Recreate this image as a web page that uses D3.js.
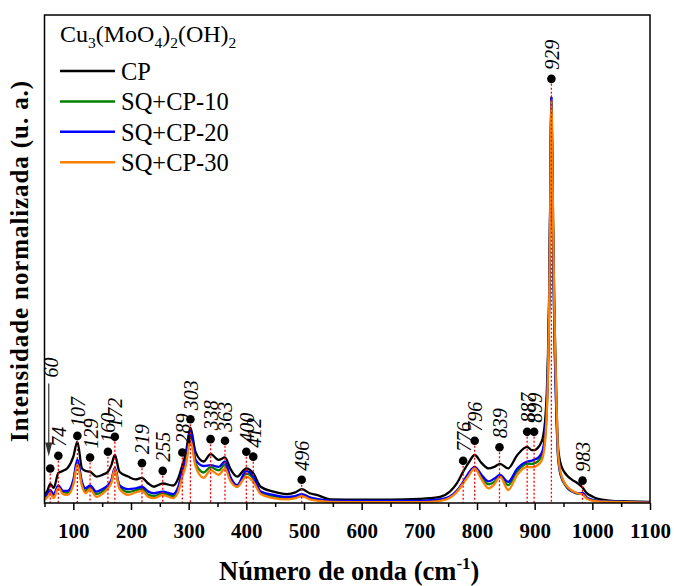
<!DOCTYPE html>
<html><head><meta charset="utf-8">
<script src="https://cdn.jsdelivr.net/npm/d3@7"></script>
<style>body{margin:0;background:#fff} svg{display:block}</style>
</head><body>
<svg id="chart" width="674" height="586"></svg>
<script>
// ---------- data ----------
const wavenumbers = [
  50, 55, 60, 66, 74, 82, 90, 100, 107, 115,
  121, 129, 140, 150, 160, 166, 172, 180, 195, 208,
  219, 230, 240, 255, 273, 282, 289, 295, 303, 312,
  326, 338, 352, 363, 372, 384, 400, 412, 425, 447,
  470, 485, 496, 510, 522, 546, 600, 650, 700, 720,
  736, 753, 765, 776, 785, 796, 808, 820, 830, 840,
  854, 870, 887, 895, 900, 905, 910, 914, 918, 921,
  923, 925, 927, 928, 929, 930, 931, 933, 935, 937,
  940, 943, 947, 952, 958, 965, 975, 983, 990, 1000,
  1010, 1030, 1060, 1100];

const seriesNames = ["CP", "SQ+CP-10", "SQ+CP-20", "SQ+CP-30"];

const cpValues = [
  0.020, 0.030, 0.047, 0.037, 0.074, 0.079, 0.086, 0.114, 0.151, 0.085,
  0.079, 0.077, 0.065, 0.069, 0.077, 0.093, 0.118, 0.077, 0.065, 0.058,
  0.062, 0.048, 0.040, 0.048, 0.043, 0.061, 0.093, 0.122, 0.185, 0.125,
  0.102, 0.120, 0.106, 0.112, 0.085, 0.065, 0.085, 0.073, 0.040, 0.028,
  0.022, 0.026, 0.034, 0.024, 0.020, 0.009, 0.008, 0.008, 0.010, 0.012,
  0.015, 0.028, 0.048, 0.077, 0.098, 0.118, 0.098, 0.085, 0.089, 0.096,
  0.085, 0.118, 0.138, 0.130, 0.130, 0.135, 0.145, 0.160, 0.200, 0.270,
  0.360, 0.500, 0.750, 0.900, 1.000, 0.920, 0.800, 0.580, 0.420, 0.300,
  0.150, 0.110, 0.088, 0.075, 0.065, 0.057, 0.048, 0.038, 0.025, 0.016,
  0.010, 0.006, 0.004, 0.003];

const sq10Values = [
  0.012, 0.018, 0.028, 0.017, 0.040, 0.027, 0.025, 0.052, 0.100, 0.046,
  0.030, 0.038, 0.022, 0.028, 0.040, 0.053, 0.084, 0.040, 0.027, 0.031,
  0.035, 0.020, 0.017, 0.024, 0.017, 0.035, 0.072, 0.098, 0.167, 0.097,
  0.075, 0.088, 0.080, 0.095, 0.060, 0.040, 0.072, 0.060, 0.025, 0.016,
  0.012, 0.014, 0.019, 0.011, 0.008, 0.005, 0.004, 0.004, 0.004, 0.006,
  0.008, 0.015, 0.029, 0.050, 0.070, 0.087, 0.064, 0.046, 0.052, 0.065,
  0.044, 0.078, 0.097, 0.096, 0.098, 0.102, 0.110, 0.122, 0.160, 0.230,
  0.320, 0.470, 0.730, 0.890, 0.990, 0.900, 0.760, 0.530, 0.370, 0.260,
  0.125, 0.082, 0.060, 0.046, 0.035, 0.028, 0.023, 0.024, 0.013, 0.007,
  0.005, 0.004, 0.003, 0.002];

const sq20Values = [
  0.015, 0.022, 0.032, 0.021, 0.043, 0.030, 0.030, 0.057, 0.107, 0.052,
  0.036, 0.043, 0.028, 0.034, 0.044, 0.057, 0.087, 0.044, 0.034, 0.036,
  0.040, 0.028, 0.024, 0.028, 0.022, 0.040, 0.079, 0.106, 0.178, 0.106,
  0.091, 0.093, 0.089, 0.102, 0.065, 0.044, 0.079, 0.065, 0.028, 0.020,
  0.015, 0.017, 0.022, 0.014, 0.010, 0.006, 0.005, 0.005, 0.005, 0.007,
  0.009, 0.016, 0.030, 0.052, 0.073, 0.089, 0.069, 0.053, 0.060, 0.069,
  0.052, 0.085, 0.102, 0.104, 0.107, 0.110, 0.118, 0.130, 0.170, 0.240,
  0.330, 0.480, 0.740, 0.900, 1.000, 0.900, 0.760, 0.520, 0.360, 0.250,
  0.130, 0.085, 0.062, 0.048, 0.036, 0.029, 0.024, 0.025, 0.014, 0.008,
  0.005, 0.004, 0.003, 0.002];

const sq30Values = [
  0.008, 0.014, 0.024, 0.012, 0.037, 0.022, 0.020, 0.045, 0.095, 0.042,
  0.024, 0.034, 0.015, 0.022, 0.036, 0.050, 0.083, 0.035, 0.020, 0.026,
  0.030, 0.015, 0.012, 0.020, 0.012, 0.028, 0.065, 0.092, 0.155, 0.090,
  0.062, 0.081, 0.069, 0.085, 0.055, 0.040, 0.065, 0.052, 0.022, 0.012,
  0.009, 0.012, 0.017, 0.009, 0.006, 0.003, 0.002, 0.002, 0.002, 0.003,
  0.005, 0.013, 0.027, 0.048, 0.066, 0.085, 0.058, 0.036, 0.046, 0.065,
  0.032, 0.070, 0.089, 0.088, 0.089, 0.093, 0.100, 0.112, 0.150, 0.220,
  0.310, 0.460, 0.720, 0.880, 0.990, 0.930, 0.800, 0.580, 0.410, 0.290,
  0.140, 0.090, 0.065, 0.049, 0.038, 0.030, 0.024, 0.021, 0.011, 0.006,
  0.004, 0.003, 0.002, 0.001];

const peakPositions = [60, 74, 107, 129, 160, 172, 219, 255, 289, 303, 338,
  363, 400, 412, 496, 776, 796, 839, 887, 899, 929, 983];
const peakMarkerHeights = [0.085, 0.116, 0.165, 0.112, 0.126, 0.163, 0.098,
  0.079, 0.124, 0.206, 0.157, 0.153, 0.126, 0.114, 0.057, 0.104, 0.153,
  0.137, 0.175, 0.175, 1.043, 0.055];

const majorTicks = [100, 200, 300, 400, 500, 600, 700, 800, 900, 1000, 1100];
const minorTicks = [50, 150, 250, 350, 450, 550, 650, 750, 850, 950, 1050];
const seriesColors = ["#000000", "#008000", "#0000ff", "#ff8000"];

// ---------- drawing ----------
const svg = d3.select("#chart");
const L = 44.5, R = 650, T = 15, B = 503;
const x = d3.scaleLinear().domain([50, 1100]).range([L, R]);
const y = d3.scaleLinear().domain([0, 1.2]).range([B, T]);
const serif = "'Liberation Serif','Times New Roman',serif";

const allSeries = [cpValues, sq10Values, sq20Values, sq30Values];
const line = d3.line()
  .x((d, i) => x(wavenumbers[i]))
  .y(d => y(d))
  .curve(d3.curveMonotoneX);

const plot = svg.append("g");
plot.append("defs").append("clipPath").attr("id", "clip")
  .append("rect").attr("x", L).attr("y", T).attr("width", R - L).attr("height", B - T);

allSeries.forEach((vals, k) => {
  plot.append("path")
    .attr("clip-path", "url(#clip)")
    .attr("d", line(vals))
    .attr("fill", "none")
    .attr("stroke", seriesColors[k])
    .attr("stroke-width", 2.3)
    .attr("stroke-linejoin", "round");
});

// red dotted guide lines
peakPositions.forEach((p, i) => {
  plot.append("line")
    .attr("x1", x(p)).attr("x2", x(p))
    .attr("y1", y(peakMarkerHeights[i]) + 5).attr("y2", B)
    .attr("stroke", "#ff0000").attr("stroke-width", 1.3)
    .attr("stroke-dasharray", "2,2");
});

// dots
plot.selectAll("circle.pk").data(peakPositions).enter().append("circle")
  .attr("cx", d => x(d))
  .attr("cy", (d, i) => y(peakMarkerHeights[i]))
  .attr("r", 4.3).attr("fill", "#000");

// labels
peakPositions.forEach((p, i) => {
  const lift = p === 60 ? 91 : 9;
  svg.append("text")
    .attr("transform", `translate(${x(p) + 7.5},${y(peakMarkerHeights[i]) - lift}) rotate(-90)`)
    .attr("font-family", serif).attr("font-style", "italic")
    .attr("font-size", 20).attr("fill", "#000")
    .text(p);
});

// arrow for the 60 label
const ax0 = x(60) - 1.5;
const yArrowTop = y(peakMarkerHeights[0]) - 85;
const yArrowTip = y(peakMarkerHeights[0]) - 12;
svg.append("line").attr("x1", ax0).attr("x2", ax0)
  .attr("y1", yArrowTop).attr("y2", yArrowTip - 8)
  .attr("stroke", "#333").attr("stroke-width", 1.2);
svg.append("path")
  .attr("d", `M${ax0 - 3.5},${yArrowTip - 14} L${ax0 + 3.5},${yArrowTip - 14} L${ax0},${yArrowTip} Z`)
  .attr("fill", "#333");

// frame
svg.append("rect").attr("x", L).attr("y", T).attr("width", R - L).attr("height", B - T)
  .attr("fill", "none").attr("stroke", "#000").attr("stroke-width", 1.5);

// x axis
const gMaj = svg.append("g").attr("transform", `translate(0,${B})`)
  .call(d3.axisBottom(x).tickValues(majorTicks).tickSize(7).tickSizeOuter(0).tickPadding(13).tickFormat(d3.format("d")));
gMaj.select(".domain").remove();
gMaj.selectAll("line").attr("stroke", "#000").attr("stroke-width", 1.5);
gMaj.selectAll("text").attr("font-family", serif).attr("font-weight", "bold")
  .attr("font-size", 21).attr("fill", "#000");
const gMin = svg.append("g").attr("transform", `translate(0,${B})`)
  .call(d3.axisBottom(x).tickValues(minorTicks).tickSize(4).tickSizeOuter(0).tickFormat(""));
gMin.select(".domain").remove();
gMin.selectAll("line").attr("stroke", "#000").attr("stroke-width", 1.5);

// axis titles
const xt = svg.append("text").attr("x", (L + R) / 2 + 2).attr("y", 580)
  .attr("text-anchor", "middle").attr("font-family", serif)
  .attr("font-weight", "bold").attr("font-size", 26.5).attr("fill", "#000");
xt.append("tspan").text("Número de onda (cm");
xt.append("tspan").attr("dy", -11).attr("font-size", 17).text("-1");
xt.append("tspan").attr("dy", 11).text(")");

svg.append("text")
  .attr("transform", `translate(28,${(T + B) / 2 + 2}) rotate(-90)`)
  .attr("text-anchor", "middle").attr("font-family", serif)
  .attr("font-weight", "bold").attr("font-size", 25).attr("letter-spacing", 0.9)
  .attr("fill", "#000")
  .text("Intensidade normalizada (u. a.)");

// legend
const lt = svg.append("text").attr("x", 60).attr("y", 42)
  .attr("font-family", serif).attr("font-size", 24).attr("fill", "#000");
const parts = [["Cu", 0], ["3", 1], ["(MoO", 0], ["4", 1], [")", 0], ["2", 1], ["(OH)", 0], ["2", 1]];
let sub = false;
parts.forEach(([t, s]) => {
  const ts = lt.append("tspan").text(t);
  if (s && !sub) { ts.attr("dy", 6).attr("font-size", 15.5); sub = true; }
  else if (s) { ts.attr("font-size", 15.5); }
  else if (!s && sub) { ts.attr("dy", -6); sub = false; }
});

seriesNames.forEach((name, k) => {
  const ly = 71 + k * 30.4;
  svg.append("line").attr("x1", 60).attr("x2", 115).attr("y1", ly).attr("y2", ly)
    .attr("stroke", seriesColors[k]).attr("stroke-width", 2.5);
  svg.append("text").attr("x", 121).attr("y", ly + 9)
    .attr("font-family", serif).attr("font-size", 24.5).attr("fill", "#000").text(name);
});
</script>
</body></html>
